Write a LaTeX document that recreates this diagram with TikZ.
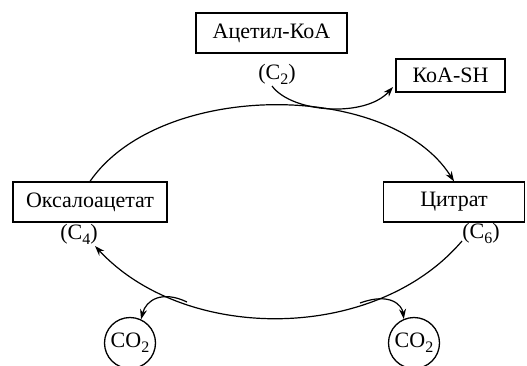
\documentclass[tikz,border=0pt]{standalone}
\usepackage{fontspec}
\setmainfont{Liberation Serif}
\usetikzlibrary{arrows.meta}
\newcommand{\subnum}[1]{\raisebox{-5pt}{\fontsize{16}{16}\selectfont #1}}
\begin{document}
\begin{tikzpicture}[x=1pt,y=-1pt,
  txt/.style={font=\fontsize{22}{26}\selectfont},
  box/.style={draw,line width=1.3pt,inner sep=0pt,txt},
  lab/.style={inner sep=0pt,txt},
  gas/.style={draw,circle,line width=1.3pt,minimum size=51pt,inner sep=0pt,txt},
  conn/.style={line width=1.2pt,-{Stealth[length=10pt,width=7pt]}}]
\useasboundingbox (0,0) rectangle (527,365);
\node[box,minimum width=151pt,minimum height=40pt] (acet) at (271.5,33) {Ацетил-КоА};
\node[box,minimum width=109pt,minimum height=33pt] (koa) at (450.5,75.5) {КоА-SH};
\node[box,minimum width=154pt,minimum height=40pt] (oxa) at (90,202) {Оксалоацетат};
\node[box,minimum width=141pt,minimum height=40pt] (cit) at (454,202) {Цитрат};
\node[lab] (c2) at (277,74) {(C\subnum{2})};
\node[lab] (c4) at (79,234) {(C\subnum{4})};
\node[lab] (c6) at (481,233) {(C\subnum{6})};
\node[gas] (co2a) at (130,343) {CO\subnum{2}};
\node[gas] (co2b) at (414,343) {CO\subnum{2}};
\coordinate (bs) at (462,241);
\coordinate (be) at (95,246);
\coordinate (ks) at (272,86);
\coordinate (ke) at (393,87);
\coordinate (la) at (187,302);
\coordinate (ra) at (360,303);
% top arc
\draw[conn] (oxa.north) .. controls (160,80) and (390,80) .. (cit.north);
% bottom arc
\draw[conn] (bs) .. controls (375,343) and (185,343) .. (be);
% acetyl arrow
\draw[conn] (ks) .. controls (292,113) and (365,118) .. (ke);
% CO2 arrows
\draw[conn] (la) .. controls (162,290) and (146,300) .. (co2a.65);
\draw[conn] (ra) .. controls (390,292) and (402,305) .. (co2b.113);
\end{tikzpicture}
\end{document}
